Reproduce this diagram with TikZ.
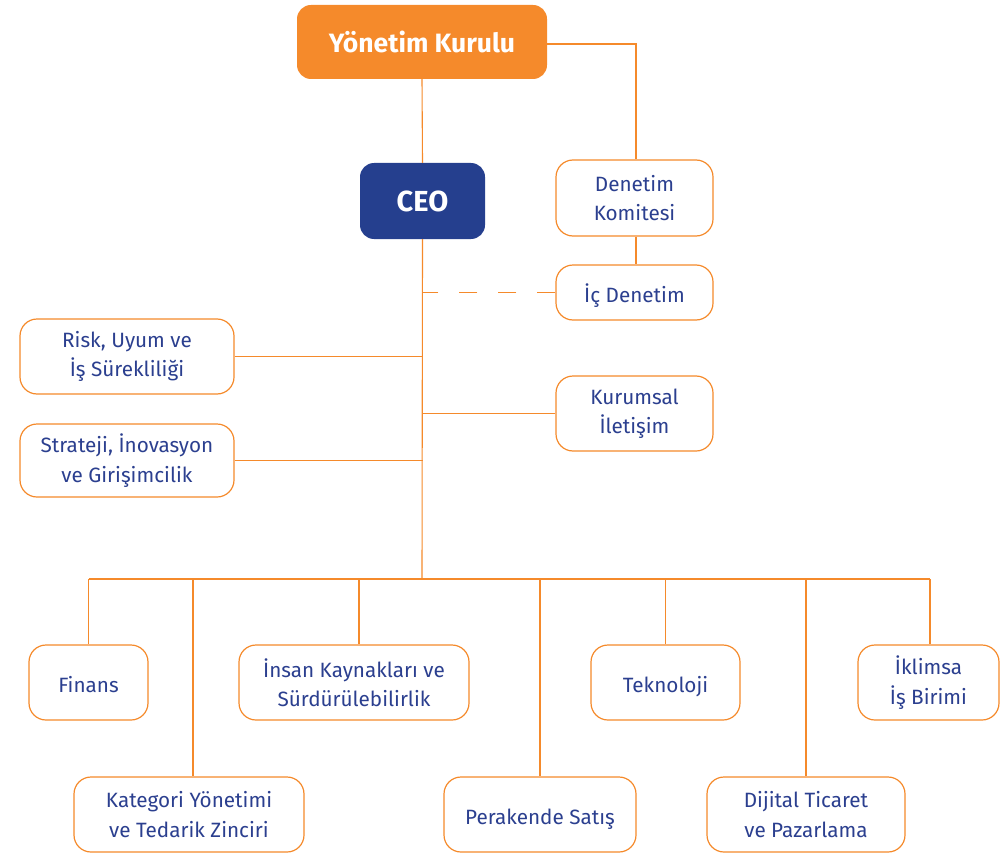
\documentclass[tikz,border=0pt]{standalone}
\usepackage{fontspec}
\setmainfont{Fira Sans}
\definecolor{org}{HTML}{F58A2B}
\definecolor{navy}{HTML}{253F8E}
\definecolor{txt}{HTML}{2B3F8F}
\begin{document}
\begin{tikzpicture}[x=1pt,y=-1pt,
  box/.style={draw=org,line width=1.2pt,rounded corners=17pt,fill=white,text=txt,align=center,font=\fontsize{20.7}{29.5}\selectfont},
  one/.style={text height=19pt,text depth=0pt},
  link/.style={draw=org,line width=1.1pt},
  head/.style={rounded corners=14pt,text=white,font=\fontsize{26.5}{30}\selectfont\bfseries}]
\useasboundingbox (0,0) rectangle (1008,853);
% top
\node[head,fill=org,minimum width=250pt,minimum height=74pt] (yk) at (422,42) {Yönetim Kurulu};
\node[head,fill=navy,minimum width=125pt,minimum height=76pt,font=\fontsize{29}{32}\selectfont\bfseries] (ceo) at (422.5,201) {CEO};
\node[box,minimum width=157pt,minimum height=76pt] (dk) at (634.5,198) {Denetim\\Komitesi};
\node[box,one,minimum width=157pt,minimum height=55pt] (ic) at (634.5,292.5) {İç Denetim};
\node[box,minimum width=214pt,minimum height=75pt] (risk) at (127,356.5) {Risk, Uyum ve\\İş Sürekliliği};
\node[box,minimum width=157pt,minimum height=75pt] (kur) at (634.5,413.5) {Kurumsal\\İletişim};
\node[box,minimum width=214pt,minimum height=73pt] (str) at (127,460.5) {Strateji, İnovasyon\\ve Girişimcilik};
% bottom row 1
\node[box,one,minimum width=119pt,minimum height=75pt] (fin) at (88.5,682.5) {Finans};
\node[box,minimum width=230pt,minimum height=75pt] (ik) at (354,682.5) {İnsan Kaynakları ve\\Sürdürülebilirlik};
\node[box,one,minimum width=149pt,minimum height=75pt] (tek) at (665.5,682.5) {Teknoloji};
\node[box,minimum width=141pt,minimum height=75pt] (ikl) at (928.5,682.5) {İklimsa\\İş Birimi};
% bottom row 2
\node[box,minimum width=230pt,minimum height=75pt] (kat) at (189,814.5) {Kategori Yönetimi\\ve Tedarik Zinciri};
\node[box,one,minimum width=192pt,minimum height=75pt] (per) at (540,814.5) {Perakende Satış};
\node[box,minimum width=198pt,minimum height=75pt] (dij) at (806,814.5) {Dijital Ticaret\\ve Pazarlama};
% coordinates
\coordinate (bus) at (422,579);
\coordinate (busL) at (88.5,579);
\coordinate (busR) at (930,579);
\coordinate (ykc) at (636,44);
% connectors
\draw[link] (yk.south) -- (ceo.north);
\draw[link] (yk.east |- ykc) -- (ykc) -- (dk.north -| ykc);
\draw[link] (dk.south -| ykc) -- (ic.north -| ykc);
\draw[link] (ceo.south) -- (bus);
\draw[link,dash pattern=on 18pt off 21pt] (ic.west) -- (ic.west -| ceo.south);
\draw[link] (risk.east) -- (risk.east -| ceo.south);
\draw[link] (str.east) -- (str.east -| ceo.south);
\draw[link] (kur.west) -- (kur.west -| ceo.south);
\draw[link] (busL) -- (busR);
\draw[link] (busL) -- (fin.north);
\draw[link] (bus -| 193,0) -- (kat.north -| 193,0);
\draw[link] (bus -| 359,0) -- (ik.north -| 359,0);
\draw[link] (bus -| per.north) -- (per.north);
\draw[link] (bus -| tek.north) -- (tek.north);
\draw[link] (bus -| dij.north) -- (dij.north);
\draw[link] (busR) -- (ikl.north -| busR);
\end{tikzpicture}
\end{document}
